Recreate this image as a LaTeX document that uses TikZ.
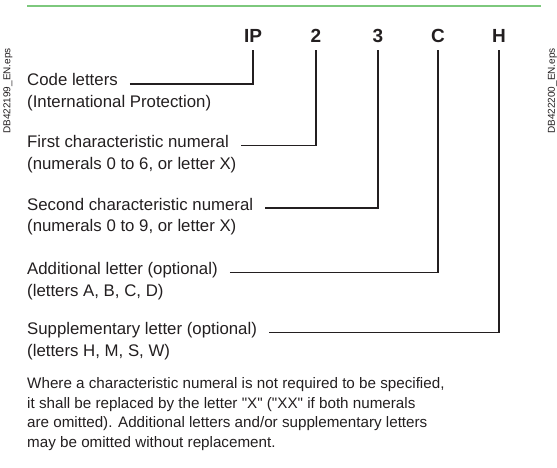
\documentclass[tikz,border=0pt]{standalone}
\usepackage{fontspec}
\setmainfont{Liberation Sans}
\usetikzlibrary{positioning}
\definecolor{rulegreen}{RGB}{125,200,125}
\definecolor{inkgray}{RGB}{35,31,32}

\begin{document}
\begin{tikzpicture}[x=1pt, y=-1pt, inkgray,
    codeletter/.style={font=\fontsize{19}{22}\selectfont\bfseries, inner sep=0pt, anchor=base},
    partname/.style={font=\fontsize{16.8}{20}\selectfont, inner sep=0pt, anchor=base west},
    partnote/.style={partname},
    sidetag/.style={font=\fontsize{10}{12}\selectfont, inner sep=0pt, rotate=90},
    lead/.style={draw, line width=1.1pt}]
    \useasboundingbox (0,0) rectangle (557,468);
    \draw[rulegreen, line width=2pt] (27,6) -- (541,6);
    \node[sidetag] (tagl) at (8,91) {DB422199\_EN.eps};
    \node[sidetag] (tagr) at (552.5,91) {DB422200\_EN.eps};
    % code letters on top
    \node[codeletter] (ip) at (253,43) {IP};
    \node[codeletter] (num1) at (316,43) {2};
    \node[codeletter] (num2) at (378,43) {3};
    \node[codeletter] (add) at (438,43) {C};
    \node[codeletter] (sup) at (499,43) {H};
    % the parts
    \node[partname] (codel) at (27,86) {Code letters};
    \node[partnote] (codeln) at (27,107.5) {(International Protection)};
    \node[partname] (first) at (27,147.5) {First characteristic numeral};
    \node[partnote] (firstn) at (27,169) {(numerals 0 to 6, or letter X)};
    \node[partname] (second) at (27,210) {Second characteristic numeral};
    \node[partnote] (secondn) at (27,231.5) {(numerals 0 to 9, or letter X)};
    \node[partname] (addl) at (27,274.5) {Additional letter (optional)};
    \node[partnote] (addln) at (27,296) {(letters A, B, C, D)};
    \node[partname] (supl) at (27,334.5) {Supplementary letter (optional)};
    \node[partnote] (supln) at (27,356) {(letters H, M, S, W)};
    \draw[lead] ([xshift=12pt, yshift=2pt]codel.base east) -| ([yshift=-7pt]ip.base);
    \draw[lead] ([xshift=12pt, yshift=2pt]first.base east) -| ([yshift=-7pt]num1.base);
    \draw[lead] ([xshift=12pt, yshift=2pt]second.base east) -| ([yshift=-7pt]num2.base);
    \draw[lead] ([xshift=12pt, yshift=2pt]addl.base east) -| ([yshift=-7pt]add.base);
    \draw[lead] ([xshift=12pt, yshift=2pt]supl.base east) -| ([yshift=-7pt]sup.base);
    % note below
    \node[font=\fontsize{15.2}{19.5}\selectfont, inner sep=0pt, anchor=north west, align=left] (note) at (27,377.5)
      {Where a characteristic numeral is not required to be specified,\\
       it shall be replaced by the letter \textquotedbl X\textquotedbl{} (\textquotedbl XX\textquotedbl{} if both numerals\\
       are omitted). Additional letters and/or supplementary letters\\
       may be omitted without replacement.};
\end{tikzpicture}
\end{document}
